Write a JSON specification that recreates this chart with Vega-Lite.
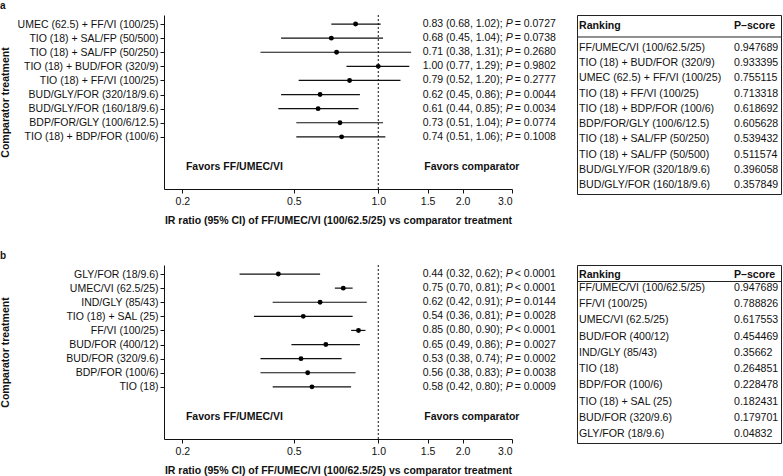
{
  "$schema": "https://vega.github.io/schema/vega-lite/v6.json",
  "background": "white",
  "padding": {"left": 0, "top": 0, "right": 0, "bottom": 0},
  "config": {
    "font": "Liberation Sans",
    "view": {"stroke": null},
    "axis": {
      "labelFont": "Liberation Sans", "labelFontSize": 10.5, "labelColor": "#111",
      "titleFont": "Liberation Sans", "titleFontSize": 10.5, "titleFontWeight": "bold", "titleColor": "#111",
      "domainColor": "#111", "tickColor": "#111", "grid": false, "tickSize": 4
    },
    "text": {"font": "Liberation Sans", "fontSize": 10.5, "color": "#111"},
    "title": {"font": "Liberation Sans", "fontSize": 10, "fontWeight": "bold", "anchor": "start", "color": "#111", "offset": 4}
  },
  "datasets": {
    "forest_a": [
      {"treatment": "UMEC (62.5) + FF/VI (100/25)", "est": 0.83, "lo": 0.68, "hi": 1.02, "ci": "0.83 (0.68, 1.02);", "p": "= 0.0727"},
      {"treatment": "TIO (18) + SAL/FP (50/500)", "est": 0.68, "lo": 0.45, "hi": 1.04, "ci": "0.68 (0.45, 1.04);", "p": "= 0.0738"},
      {"treatment": "TIO (18) + SAL/FP (50/250)", "est": 0.71, "lo": 0.38, "hi": 1.31, "ci": "0.71 (0.38, 1.31);", "p": "= 0.2680"},
      {"treatment": "TIO (18) + BUD/FOR (320/9)", "est": 1.00, "lo": 0.77, "hi": 1.29, "ci": "1.00 (0.77, 1.29);", "p": "= 0.9802"},
      {"treatment": "TIO (18) + FF/VI (100/25)", "est": 0.79, "lo": 0.52, "hi": 1.20, "ci": "0.79 (0.52, 1.20);", "p": "= 0.2777"},
      {"treatment": "BUD/GLY/FOR (320/18/9.6)", "est": 0.62, "lo": 0.45, "hi": 0.86, "ci": "0.62 (0.45, 0.86);", "p": "= 0.0044"},
      {"treatment": "BUD/GLY/FOR (160/18/9.6)", "est": 0.61, "lo": 0.44, "hi": 0.85, "ci": "0.61 (0.44, 0.85);", "p": "= 0.0034"},
      {"treatment": "BDP/FOR/GLY (100/6/12.5)", "est": 0.73, "lo": 0.51, "hi": 1.04, "ci": "0.73 (0.51, 1.04);", "p": "= 0.0774"},
      {"treatment": "TIO (18) + BDP/FOR (100/6)", "est": 0.74, "lo": 0.51, "hi": 1.06, "ci": "0.74 (0.51, 1.06);", "p": "= 0.1008"}
    ],
    "forest_b": [
      {"treatment": "GLY/FOR (18/9.6)", "est": 0.44, "lo": 0.32, "hi": 0.62, "ci": "0.44 (0.32, 0.62);", "p": "< 0.0001"},
      {"treatment": "UMEC/VI (62.5/25)", "est": 0.75, "lo": 0.70, "hi": 0.81, "ci": "0.75 (0.70, 0.81);", "p": "< 0.0001"},
      {"treatment": "IND/GLY (85/43)", "est": 0.62, "lo": 0.42, "hi": 0.91, "ci": "0.62 (0.42, 0.91);", "p": "= 0.0144"},
      {"treatment": "TIO (18) + SAL (25)", "est": 0.54, "lo": 0.36, "hi": 0.81, "ci": "0.54 (0.36, 0.81);", "p": "= 0.0028"},
      {"treatment": "FF/VI (100/25)", "est": 0.85, "lo": 0.80, "hi": 0.90, "ci": "0.85 (0.80, 0.90);", "p": "< 0.0001"},
      {"treatment": "BUD/FOR (400/12)", "est": 0.65, "lo": 0.49, "hi": 0.86, "ci": "0.65 (0.49, 0.86);", "p": "= 0.0027"},
      {"treatment": "BUD/FOR (320/9.6)", "est": 0.53, "lo": 0.38, "hi": 0.74, "ci": "0.53 (0.38, 0.74);", "p": "= 0.0002"},
      {"treatment": "BDP/FOR (100/6)", "est": 0.56, "lo": 0.38, "hi": 0.83, "ci": "0.56 (0.38, 0.83);", "p": "= 0.0038"},
      {"treatment": "TIO (18)", "est": 0.58, "lo": 0.42, "hi": 0.80, "ci": "0.58 (0.42, 0.80);", "p": "= 0.0009"}
    ],
    "favors": [
      {"label": "Favors FF/UMEC/VI", "x": 0.206},
      {"label": "Favors comparator", "x": 1.46}
    ],
    "rank_a": [
      {"rank": 1, "treatment": "FF/UMEC/VI (100/62.5/25)", "pscore": "0.947689"},
      {"rank": 2, "treatment": "TIO (18) + BUD/FOR (320/9)", "pscore": "0.933395"},
      {"rank": 3, "treatment": "UMEC (62.5) + FF/VI (100/25)", "pscore": "0.755115"},
      {"rank": 4, "treatment": "TIO (18) + FF/VI (100/25)", "pscore": "0.713318"},
      {"rank": 5, "treatment": "TIO (18) + BDP/FOR (100/6)", "pscore": "0.618692"},
      {"rank": 6, "treatment": "BDP/FOR/GLY (100/6/12.5)", "pscore": "0.605628"},
      {"rank": 7, "treatment": "TIO (18) + SAL/FP (50/250)", "pscore": "0.539432"},
      {"rank": 8, "treatment": "TIO (18) + SAL/FP (50/500)", "pscore": "0.511574"},
      {"rank": 9, "treatment": "BUD/GLY/FOR (320/18/9.6)", "pscore": "0.396058"},
      {"rank": 10, "treatment": "BUD/GLY/FOR (160/18/9.6)", "pscore": "0.357849"}
    ],
    "rank_b": [
      {"rank": 1, "treatment": "FF/UMEC/VI (100/62.5/25)", "pscore": "0.947689"},
      {"rank": 2, "treatment": "FF/VI (100/25)", "pscore": "0.788826"},
      {"rank": 3, "treatment": "UMEC/VI (62.5/25)", "pscore": "0.617553"},
      {"rank": 4, "treatment": "BUD/FOR (400/12)", "pscore": "0.454469"},
      {"rank": 5, "treatment": "IND/GLY (85/43)", "pscore": "0.35662"},
      {"rank": 6, "treatment": "TIO (18)", "pscore": "0.264851"},
      {"rank": 7, "treatment": "BDP/FOR (100/6)", "pscore": "0.228478"},
      {"rank": 8, "treatment": "TIO (18) + SAL (25)", "pscore": "0.182431"},
      {"rank": 9, "treatment": "BUD/FOR (320/9.6)", "pscore": "0.179701"},
      {"rank": 10, "treatment": "GLY/FOR (18/9.6)", "pscore": "0.04832"}
    ],
    "header": [
      {"col": "treatment", "txt": "Ranking"},
      {"col": "pscore", "txt": "P–score"}
    ],
    "one": [{}]
  },
  "spacing": 24,
  "vconcat": [
    {
      "title": {"text": "a"},
      "spacing": 20,
      "hconcat": [
        {
          "width": 348, "height": 174,
          "resolve": {"scale": {"y": "independent"}, "axis": {"y": "independent"}},
          "layer": [
            {
              "data": {"name": "forest_a"},
              "encoding": {
                "y": {"field": "treatment", "type": "nominal", "sort": null,
                  "scale": {"type": "point", "padding": 0.67, "align": 0.478,
                    "domain": ["UMEC (62.5) + FF/VI (100/25)", "TIO (18) + SAL/FP (50/500)", "TIO (18) + SAL/FP (50/250)", "TIO (18) + BUD/FOR (320/9)", "TIO (18) + FF/VI (100/25)", "BUD/GLY/FOR (320/18/9.6)", "BUD/GLY/FOR (160/18/9.6)", "BDP/FOR/GLY (100/6/12.5)", "TIO (18) + BDP/FOR (100/6)", "~1", "~2", "~3"]},
                  "axis": {"title": "Comparator treatment", "titleX": -154, "labelPadding": 2, "labelLimit": 0,
                    "labelExpr": "indexof(datum.value, '~') == 0 ? '' : datum.label",
                    "tickOpacity": {"condition": {"test": "indexof(datum.value, '~') == 0", "value": 0}, "value": 1}}}
              },
              "layer": [
                {"mark": {"type": "rule", "color": "#111", "strokeWidth": 1.2},
                 "encoding": {
                   "x": {"field": "lo", "type": "quantitative",
                     "scale": {"type": "log", "domain": [0.172, 3], "nice": false},
                     "axis": {"values": [0.2, 0.5, 1, 1.5, 2, 3], "format": ".1f", "labelPadding": 3, "titlePadding": 9,
                       "title": "IR ratio (95% CI) of FF/UMEC/VI (100/62.5/25) vs comparator treatment"}},
                   "x2": {"field": "hi"}}},
                {"mark": {"type": "point", "filled": true, "color": "#000", "size": 24, "opacity": 1},
                 "encoding": {"x": {"field": "est", "type": "quantitative"}}},
                {"mark": {"type": "text", "align": "left", "baseline": "middle"},
                 "encoding": {"x": {"datum": 1.44}, "text": {"field": "ci"}}},
                {"mark": {"type": "text", "align": "left", "baseline": "middle", "fontStyle": "italic", "dx": 83},
                 "encoding": {"x": {"datum": 1.44}, "text": {"value": "P"}}},
                {"mark": {"type": "text", "align": "left", "baseline": "middle", "dx": 92},
                 "encoding": {"x": {"datum": 1.44}, "text": {"field": "p"}}}
              ]
            },
            {
              "data": {"name": "one"},
              "mark": {"type": "rule", "strokeDash": [2, 2], "color": "#111"},
              "encoding": {"x": {"datum": 1}}
            },
            {
              "data": {"name": "favors"},
              "mark": {"type": "text", "align": "left", "baseline": "middle", "fontWeight": "bold"},
              "encoding": {
                "x": {"field": "x", "type": "quantitative"},
                "y": {"datum": 0.125, "type": "quantitative", "scale": {"domain": [0, 1], "nice": false}, "axis": null},
                "text": {"field": "label"}
              }
            }
          ]
        },
        {
          "width": 204, "height": 179,
          "view": {"stroke": "#222", "strokeWidth": 1},
          "layer": [
            {
              "data": {"name": "rank_a"},
              "transform": [{"fold": ["treatment", "pscore"], "as": ["col", "txt"]}],
              "mark": {"type": "text", "align": "left", "baseline": "middle", "fontSize": 10.6},
              "encoding": {
                "x": {"field": "col", "type": "nominal", "scale": {"type": "point", "domain": ["treatment", "pscore"], "padding": 0.158, "align": 0.041}, "axis": null},
                "y": {"field": "rank", "type": "quantitative", "scale": {"domain": [-1.168, 10.593], "reverse": true, "nice": false, "zero": false}, "axis": null},
                "text": {"field": "txt"}
              }
            },
            {
              "data": {"name": "header"},
              "mark": {"type": "text", "align": "left", "baseline": "middle", "fontSize": 10.6, "fontWeight": "bold"},
              "encoding": {
                "x": {"field": "col", "type": "nominal"},
                "y": {"datum": -0.426, "type": "quantitative"},
                "text": {"field": "txt"}
              }
            },
            {
              "data": {"name": "one"},
              "mark": {"type": "rule", "color": "#222"},
              "encoding": {"y": {"datum": 0.277, "type": "quantitative"}}
            }
          ]
        }
      ]
    },
    {
      "title": {"text": "b"},
      "spacing": 20,
      "hconcat": [
        {
          "width": 348, "height": 174,
          "resolve": {"scale": {"y": "independent"}, "axis": {"y": "independent"}},
          "layer": [
            {
              "data": {"name": "forest_b"},
              "encoding": {
                "y": {"field": "treatment", "type": "nominal", "sort": null,
                  "scale": {"type": "point", "padding": 0.67, "align": 0.478,
                    "domain": ["GLY/FOR (18/9.6)", "UMEC/VI (62.5/25)", "IND/GLY (85/43)", "TIO (18) + SAL (25)", "FF/VI (100/25)", "BUD/FOR (400/12)", "BUD/FOR (320/9.6)", "BDP/FOR (100/6)", "TIO (18)", "~1", "~2", "~3"]},
                  "axis": {"title": "Comparator treatment", "titleX": -154, "labelPadding": 2, "labelLimit": 0,
                    "labelExpr": "indexof(datum.value, '~') == 0 ? '' : datum.label",
                    "tickOpacity": {"condition": {"test": "indexof(datum.value, '~') == 0", "value": 0}, "value": 1}}}
              },
              "layer": [
                {"mark": {"type": "rule", "color": "#111", "strokeWidth": 1.2},
                 "encoding": {
                   "x": {"field": "lo", "type": "quantitative",
                     "scale": {"type": "log", "domain": [0.172, 3], "nice": false},
                     "axis": {"values": [0.2, 0.5, 1, 1.5, 2, 3], "format": ".1f", "labelPadding": 3, "titlePadding": 9,
                       "title": "IR ratio (95% CI) of FF/UMEC/VI (100/62.5/25) vs comparator treatment"}},
                   "x2": {"field": "hi"}}},
                {"mark": {"type": "point", "filled": true, "color": "#000", "size": 24, "opacity": 1},
                 "encoding": {"x": {"field": "est", "type": "quantitative"}}},
                {"mark": {"type": "text", "align": "left", "baseline": "middle"},
                 "encoding": {"x": {"datum": 1.44}, "text": {"field": "ci"}}},
                {"mark": {"type": "text", "align": "left", "baseline": "middle", "fontStyle": "italic", "dx": 83},
                 "encoding": {"x": {"datum": 1.44}, "text": {"value": "P"}}},
                {"mark": {"type": "text", "align": "left", "baseline": "middle", "dx": 92},
                 "encoding": {"x": {"datum": 1.44}, "text": {"field": "p"}}}
              ]
            },
            {
              "data": {"name": "one"},
              "mark": {"type": "rule", "strokeDash": [2, 2], "color": "#111"},
              "encoding": {"x": {"datum": 1}}
            },
            {
              "data": {"name": "favors"},
              "mark": {"type": "text", "align": "left", "baseline": "middle", "fontWeight": "bold"},
              "encoding": {
                "x": {"field": "x", "type": "quantitative"},
                "y": {"datum": 0.125, "type": "quantitative", "scale": {"domain": [0, 1], "nice": false}, "axis": null},
                "text": {"field": "label"}
              }
            }
          ]
        },
        {
          "width": 204, "height": 178,
          "view": {"stroke": "#222", "strokeWidth": 1},
          "layer": [
            {
              "data": {"name": "rank_b"},
              "transform": [{"fold": ["treatment", "pscore"], "as": ["col", "txt"]}],
              "mark": {"type": "text", "align": "left", "baseline": "middle", "fontSize": 10.6},
              "encoding": {
                "x": {"field": "col", "type": "nominal", "scale": {"type": "point", "domain": ["treatment", "pscore"], "padding": 0.158, "align": 0.041}, "axis": null},
                "y": {"field": "rank", "type": "quantitative", "scale": {"domain": [-0.418, 10.556], "reverse": true, "nice": false, "zero": false}, "axis": null},
                "text": {"field": "txt"}
              }
            },
            {
              "data": {"name": "header"},
              "mark": {"type": "text", "align": "left", "baseline": "middle", "fontSize": 10.6, "fontWeight": "bold"},
              "encoding": {
                "x": {"field": "col", "type": "nominal"},
                "y": {"datum": 0.198, "type": "quantitative"},
                "text": {"field": "txt"}
              }
            },
            {
              "data": {"name": "one"},
              "mark": {"type": "rule", "color": "#222"},
              "encoding": {"y": {"datum": 0.6, "type": "quantitative"}}
            }
          ]
        }
      ]
    }
  ]
}
